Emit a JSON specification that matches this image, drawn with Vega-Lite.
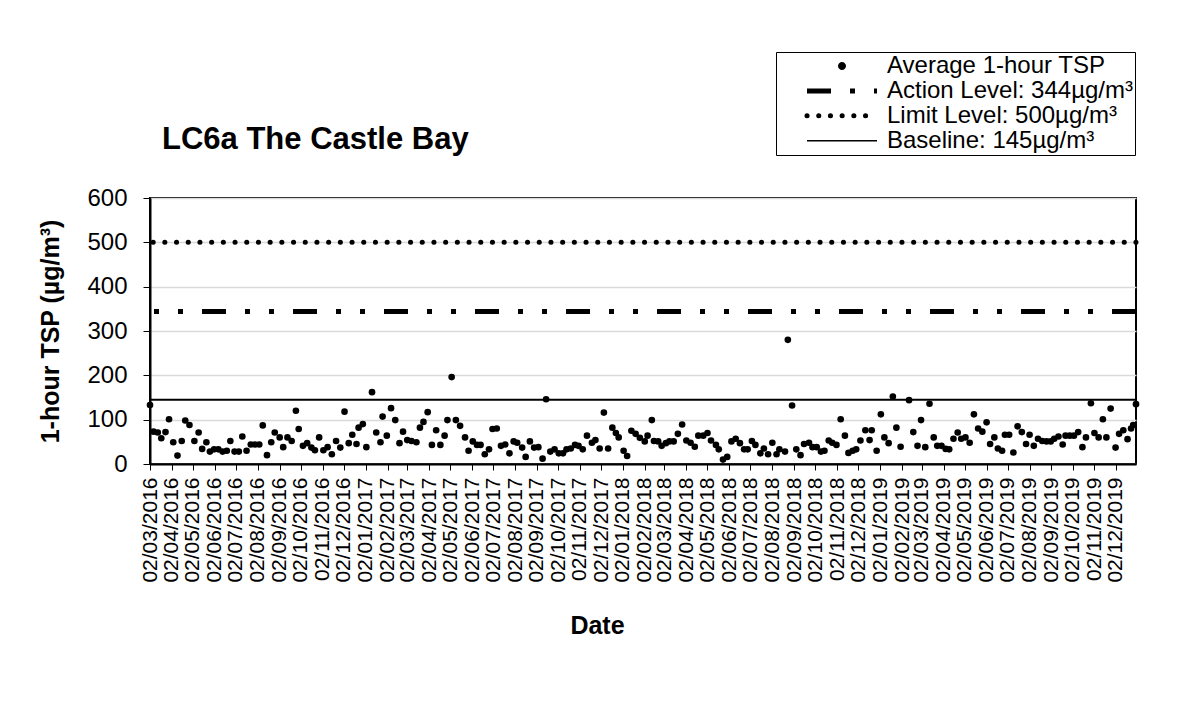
{
  "$schema": "https://vega.github.io/schema/vega-lite/v6.json",
  "width": 986,
  "height": 266,
  "autosize": {"type": "none"},
  "padding": {"left": 150, "top": 198, "right": 54, "bottom": 254},
  "background": "white",
  "config": {
    "font": "Liberation Sans",
    "view": {"stroke": "black", "strokeWidth": 2},
    "axisY": {
      "labelFontSize": 24, "labelColor": "black", "tickSize": 7, "tickColor": "black", "tickWidth": 1,
      "labelPadding": 16, "domainColor": "black", "domainWidth": 2,
      "grid": true, "gridColor": "#d9d9d9", "gridWidth": 1.5,
      "titleFontSize": 25, "titleFontWeight": "bold", "titleColor": "black",
      "titleAngle": -90, "titleX": -92, "titleY": 133, "titleBaseline": "alphabetic", "titleAlign": "center"
    },
    "axisX": {
      "labelFontSize": 21, "labelColor": "black", "tickSize": 6, "tickColor": "black", "tickWidth": 1,
      "labelPadding": 7, "labelAngle": -90, "labelOverlap": false, "labelFlush": false, "labelBound": false,
      "domainColor": "black", "domainWidth": 2, "grid": false,
      "titleFontSize": 25, "titleFontWeight": "bold", "titleColor": "black",
      "titleX": 447, "titleY": 169, "titleBaseline": "alphabetic", "titleAlign": "center"
    }
  },
  "title": {"text": "LC6a The Castle Bay", "anchor": "start", "frame": "group", "fontSize": 31, "fontWeight": "bold", "font": "Liberation Sans", "color": "black", "dx": 12, "dy": 140, "offset": 36},
  "datasets": {
    "levels": [
      {"series": "Action Level: 344µg/m³", "value": 344},
      {"series": "Limit Level: 500µg/m³", "value": 500},
      {"series": "Baseline: 145µg/m³", "value": 145}
    ],
    "tsp": [
      {"date": "2016-03-02", "tsp": 133}, {"date": "2016-03-07", "tsp": 73}, {"date": "2016-03-13", "tsp": 71}, {"date": "2016-03-18", "tsp": 58},
      {"date": "2016-03-24", "tsp": 72}, {"date": "2016-03-29", "tsp": 101}, {"date": "2016-04-04", "tsp": 49}, {"date": "2016-04-10", "tsp": 19},
      {"date": "2016-04-16", "tsp": 52}, {"date": "2016-04-21", "tsp": 98}, {"date": "2016-04-27", "tsp": 88}, {"date": "2016-05-04", "tsp": 52},
      {"date": "2016-05-10", "tsp": 71}, {"date": "2016-05-15", "tsp": 34}, {"date": "2016-05-21", "tsp": 49}, {"date": "2016-05-26", "tsp": 28},
      {"date": "2016-06-01", "tsp": 33}, {"date": "2016-06-07", "tsp": 33}, {"date": "2016-06-13", "tsp": 28}, {"date": "2016-06-19", "tsp": 30},
      {"date": "2016-06-24", "tsp": 52}, {"date": "2016-06-30", "tsp": 28}, {"date": "2016-07-06", "tsp": 28}, {"date": "2016-07-11", "tsp": 62},
      {"date": "2016-07-17", "tsp": 30}, {"date": "2016-07-23", "tsp": 44}, {"date": "2016-07-29", "tsp": 44}, {"date": "2016-08-04", "tsp": 44},
      {"date": "2016-08-09", "tsp": 87}, {"date": "2016-08-15", "tsp": 20}, {"date": "2016-08-21", "tsp": 49}, {"date": "2016-08-26", "tsp": 71},
      {"date": "2016-09-02", "tsp": 60}, {"date": "2016-09-07", "tsp": 38}, {"date": "2016-09-13", "tsp": 60}, {"date": "2016-09-19", "tsp": 52},
      {"date": "2016-09-25", "tsp": 120}, {"date": "2016-09-29", "tsp": 79}, {"date": "2016-10-05", "tsp": 41}, {"date": "2016-10-11", "tsp": 47},
      {"date": "2016-10-17", "tsp": 37}, {"date": "2016-10-22", "tsp": 31}, {"date": "2016-10-28", "tsp": 60}, {"date": "2016-11-03", "tsp": 31},
      {"date": "2016-11-09", "tsp": 38}, {"date": "2016-11-15", "tsp": 22}, {"date": "2016-11-21", "tsp": 52}, {"date": "2016-11-27", "tsp": 37},
      {"date": "2016-12-03", "tsp": 118}, {"date": "2016-12-09", "tsp": 47}, {"date": "2016-12-14", "tsp": 66}, {"date": "2016-12-20", "tsp": 45},
      {"date": "2016-12-23", "tsp": 82}, {"date": "2016-12-29", "tsp": 90}, {"date": "2017-01-03", "tsp": 38}, {"date": "2017-01-11", "tsp": 162},
      {"date": "2017-01-17", "tsp": 71}, {"date": "2017-01-23", "tsp": 49}, {"date": "2017-01-26", "tsp": 107}, {"date": "2017-02-01", "tsp": 64},
      {"date": "2017-02-07", "tsp": 126}, {"date": "2017-02-13", "tsp": 99}, {"date": "2017-02-19", "tsp": 47}, {"date": "2017-02-24", "tsp": 73},
      {"date": "2017-03-02", "tsp": 54}, {"date": "2017-03-08", "tsp": 52}, {"date": "2017-03-15", "tsp": 49}, {"date": "2017-03-20", "tsp": 82},
      {"date": "2017-03-25", "tsp": 95}, {"date": "2017-03-31", "tsp": 117}, {"date": "2017-04-06", "tsp": 43}, {"date": "2017-04-12", "tsp": 76},
      {"date": "2017-04-18", "tsp": 43}, {"date": "2017-04-24", "tsp": 64}, {"date": "2017-04-28", "tsp": 99}, {"date": "2017-05-04", "tsp": 196},
      {"date": "2017-05-10", "tsp": 99}, {"date": "2017-05-16", "tsp": 86}, {"date": "2017-05-23", "tsp": 60}, {"date": "2017-05-28", "tsp": 30},
      {"date": "2017-06-03", "tsp": 51}, {"date": "2017-06-09", "tsp": 43}, {"date": "2017-06-14", "tsp": 43}, {"date": "2017-06-20", "tsp": 22},
      {"date": "2017-06-26", "tsp": 33}, {"date": "2017-07-01", "tsp": 79}, {"date": "2017-07-07", "tsp": 80}, {"date": "2017-07-13", "tsp": 41},
      {"date": "2017-07-19", "tsp": 44}, {"date": "2017-07-25", "tsp": 24}, {"date": "2017-07-31", "tsp": 51}, {"date": "2017-08-05", "tsp": 48},
      {"date": "2017-08-12", "tsp": 37}, {"date": "2017-08-17", "tsp": 16}, {"date": "2017-08-23", "tsp": 51}, {"date": "2017-08-29", "tsp": 37},
      {"date": "2017-09-04", "tsp": 38}, {"date": "2017-09-10", "tsp": 12}, {"date": "2017-09-15", "tsp": 146}, {"date": "2017-09-21", "tsp": 28},
      {"date": "2017-09-27", "tsp": 33}, {"date": "2017-10-03", "tsp": 24}, {"date": "2017-10-09", "tsp": 24}, {"date": "2017-10-14", "tsp": 33},
      {"date": "2017-10-20", "tsp": 35}, {"date": "2017-10-26", "tsp": 43}, {"date": "2017-10-31", "tsp": 41}, {"date": "2017-11-06", "tsp": 33},
      {"date": "2017-11-12", "tsp": 64}, {"date": "2017-11-19", "tsp": 48}, {"date": "2017-11-24", "tsp": 54}, {"date": "2017-11-30", "tsp": 35},
      {"date": "2017-12-06", "tsp": 116}, {"date": "2017-12-12", "tsp": 35}, {"date": "2017-12-18", "tsp": 82}, {"date": "2017-12-23", "tsp": 70},
      {"date": "2017-12-27", "tsp": 60}, {"date": "2018-01-03", "tsp": 30}, {"date": "2018-01-08", "tsp": 18}, {"date": "2018-01-14", "tsp": 75},
      {"date": "2018-01-20", "tsp": 68}, {"date": "2018-01-26", "tsp": 59}, {"date": "2018-02-02", "tsp": 51}, {"date": "2018-02-06", "tsp": 64},
      {"date": "2018-02-12", "tsp": 99}, {"date": "2018-02-15", "tsp": 52}, {"date": "2018-02-21", "tsp": 51}, {"date": "2018-02-26", "tsp": 41},
      {"date": "2018-03-04", "tsp": 47}, {"date": "2018-03-09", "tsp": 51}, {"date": "2018-03-15", "tsp": 51}, {"date": "2018-03-21", "tsp": 68},
      {"date": "2018-03-27", "tsp": 89}, {"date": "2018-04-02", "tsp": 53}, {"date": "2018-04-08", "tsp": 48}, {"date": "2018-04-14", "tsp": 39},
      {"date": "2018-04-19", "tsp": 64}, {"date": "2018-04-26", "tsp": 64}, {"date": "2018-05-02", "tsp": 70}, {"date": "2018-05-07", "tsp": 53},
      {"date": "2018-05-14", "tsp": 43}, {"date": "2018-05-18", "tsp": 33}, {"date": "2018-05-24", "tsp": 10}, {"date": "2018-05-30", "tsp": 16},
      {"date": "2018-06-05", "tsp": 51}, {"date": "2018-06-11", "tsp": 57}, {"date": "2018-06-17", "tsp": 47}, {"date": "2018-06-23", "tsp": 33},
      {"date": "2018-06-28", "tsp": 33}, {"date": "2018-07-04", "tsp": 52}, {"date": "2018-07-09", "tsp": 43}, {"date": "2018-07-16", "tsp": 24},
      {"date": "2018-07-21", "tsp": 35}, {"date": "2018-07-27", "tsp": 22}, {"date": "2018-08-02", "tsp": 48}, {"date": "2018-08-08", "tsp": 22},
      {"date": "2018-08-12", "tsp": 33}, {"date": "2018-08-20", "tsp": 28}, {"date": "2018-08-24", "tsp": 280}, {"date": "2018-08-30", "tsp": 132},
      {"date": "2018-09-05", "tsp": 33}, {"date": "2018-09-11", "tsp": 20}, {"date": "2018-09-16", "tsp": 45}, {"date": "2018-09-23", "tsp": 48},
      {"date": "2018-09-28", "tsp": 38}, {"date": "2018-10-04", "tsp": 38}, {"date": "2018-10-10", "tsp": 28}, {"date": "2018-10-15", "tsp": 30},
      {"date": "2018-10-21", "tsp": 53}, {"date": "2018-10-26", "tsp": 48}, {"date": "2018-11-01", "tsp": 43}, {"date": "2018-11-07", "tsp": 101},
      {"date": "2018-11-13", "tsp": 64}, {"date": "2018-11-18", "tsp": 25}, {"date": "2018-11-24", "tsp": 30}, {"date": "2018-11-29", "tsp": 33},
      {"date": "2018-12-05", "tsp": 53}, {"date": "2018-12-12", "tsp": 76}, {"date": "2018-12-18", "tsp": 54}, {"date": "2018-12-21", "tsp": 76},
      {"date": "2018-12-28", "tsp": 30}, {"date": "2019-01-03", "tsp": 112}, {"date": "2019-01-08", "tsp": 60}, {"date": "2019-01-14", "tsp": 47},
      {"date": "2019-01-20", "tsp": 152}, {"date": "2019-01-25", "tsp": 82}, {"date": "2019-01-31", "tsp": 39}, {"date": "2019-02-12", "tsp": 144},
      {"date": "2019-02-18", "tsp": 72}, {"date": "2019-02-24", "tsp": 41}, {"date": "2019-03-01", "tsp": 99}, {"date": "2019-03-07", "tsp": 38},
      {"date": "2019-03-13", "tsp": 136}, {"date": "2019-03-19", "tsp": 60}, {"date": "2019-03-24", "tsp": 41}, {"date": "2019-03-30", "tsp": 41},
      {"date": "2019-04-05", "tsp": 34}, {"date": "2019-04-10", "tsp": 33}, {"date": "2019-04-16", "tsp": 57}, {"date": "2019-04-22", "tsp": 71},
      {"date": "2019-04-27", "tsp": 57}, {"date": "2019-05-03", "tsp": 60}, {"date": "2019-05-09", "tsp": 48}, {"date": "2019-05-15", "tsp": 112},
      {"date": "2019-05-21", "tsp": 80}, {"date": "2019-05-27", "tsp": 73}, {"date": "2019-06-02", "tsp": 94}, {"date": "2019-06-07", "tsp": 45},
      {"date": "2019-06-13", "tsp": 60}, {"date": "2019-06-18", "tsp": 35}, {"date": "2019-06-24", "tsp": 30}, {"date": "2019-06-28", "tsp": 66},
      {"date": "2019-07-04", "tsp": 66}, {"date": "2019-07-10", "tsp": 26}, {"date": "2019-07-16", "tsp": 85}, {"date": "2019-07-22", "tsp": 72},
      {"date": "2019-07-28", "tsp": 45}, {"date": "2019-08-02", "tsp": 66}, {"date": "2019-08-08", "tsp": 41}, {"date": "2019-08-14", "tsp": 57},
      {"date": "2019-08-20", "tsp": 52}, {"date": "2019-08-26", "tsp": 51}, {"date": "2019-09-01", "tsp": 51}, {"date": "2019-09-06", "tsp": 57},
      {"date": "2019-09-12", "tsp": 62}, {"date": "2019-09-18", "tsp": 44}, {"date": "2019-09-22", "tsp": 64}, {"date": "2019-09-28", "tsp": 64},
      {"date": "2019-10-04", "tsp": 64}, {"date": "2019-10-10", "tsp": 72}, {"date": "2019-10-16", "tsp": 38}, {"date": "2019-10-21", "tsp": 60},
      {"date": "2019-10-28", "tsp": 137}, {"date": "2019-11-02", "tsp": 70}, {"date": "2019-11-08", "tsp": 60}, {"date": "2019-11-14", "tsp": 101},
      {"date": "2019-11-19", "tsp": 60}, {"date": "2019-11-25", "tsp": 125}, {"date": "2019-12-02", "tsp": 37}, {"date": "2019-12-07", "tsp": 68},
      {"date": "2019-12-13", "tsp": 76}, {"date": "2019-12-19", "tsp": 56}, {"date": "2019-12-24", "tsp": 80}, {"date": "2019-12-27", "tsp": 88},
      {"date": "2019-12-31", "tsp": 135}
    ]
  },
  "layer": [
    {
      "data": {"name": "levels"},
      "transform": [{"filter": "datum.series === 'Limit Level: 500µg/m³'"}],
      "mark": {"type": "rule", "strokeDash": [0.1, 11.6], "strokeCap": "round", "strokeWidth": 5, "color": "black"},
      "encoding": {
        "y": {"field": "value", "type": "quantitative", "title": "1-hour TSP (µg/m³)", "scale": {"domain": [0, 600], "nice": false}, "axis": {"values": [0, 100, 200, 300, 400, 500, 600]}}
      }
    },
    {
      "data": {"name": "levels"},
      "transform": [{"filter": "datum.series === 'Action Level: 344µg/m³'"}],
      "mark": {"type": "rule", "strokeDash": [24, 19, 5, 19, 5, 19], "strokeWidth": 5, "color": "black"},
      "encoding": {
        "y": {"field": "value", "type": "quantitative", "title": "1-hour TSP (µg/m³)"}
      }
    },
    {
      "data": {"name": "levels"},
      "transform": [{"filter": "datum.series === 'Baseline: 145µg/m³'"}],
      "mark": {"type": "rule", "strokeWidth": 2, "color": "black"},
      "encoding": {
        "y": {"field": "value", "type": "quantitative", "title": "1-hour TSP (µg/m³)"}
      }
    },
    {
      "data": {"name": "tsp"},
      "mark": {"type": "point", "filled": true, "size": 44, "opacity": 1, "strokeWidth": 0},
      "encoding": {
        "x": {
          "field": "date", "type": "temporal", "title": "Date",
          "scale": {"type": "utc", "domain": [{"year": 2016, "month": 3, "date": 2, "utc": true}, {"year": 2019, "month": 12, "date": 31, "utc": true}]},
          "axis": {
            "format": "%d/%m/%Y",
            "values": [
              {"year": 2016, "month": 3, "date": 2, "utc": true}, {"year": 2016, "month": 4, "date": 2, "utc": true}, {"year": 2016, "month": 5, "date": 2, "utc": true},
              {"year": 2016, "month": 6, "date": 2, "utc": true}, {"year": 2016, "month": 7, "date": 2, "utc": true}, {"year": 2016, "month": 8, "date": 2, "utc": true},
              {"year": 2016, "month": 9, "date": 2, "utc": true}, {"year": 2016, "month": 10, "date": 2, "utc": true}, {"year": 2016, "month": 11, "date": 2, "utc": true},
              {"year": 2016, "month": 12, "date": 2, "utc": true},
              {"year": 2017, "month": 1, "date": 2, "utc": true}, {"year": 2017, "month": 2, "date": 2, "utc": true}, {"year": 2017, "month": 3, "date": 2, "utc": true},
              {"year": 2017, "month": 4, "date": 2, "utc": true}, {"year": 2017, "month": 5, "date": 2, "utc": true}, {"year": 2017, "month": 6, "date": 2, "utc": true},
              {"year": 2017, "month": 7, "date": 2, "utc": true}, {"year": 2017, "month": 8, "date": 2, "utc": true}, {"year": 2017, "month": 9, "date": 2, "utc": true},
              {"year": 2017, "month": 10, "date": 2, "utc": true}, {"year": 2017, "month": 11, "date": 2, "utc": true}, {"year": 2017, "month": 12, "date": 2, "utc": true},
              {"year": 2018, "month": 1, "date": 2, "utc": true}, {"year": 2018, "month": 2, "date": 2, "utc": true}, {"year": 2018, "month": 3, "date": 2, "utc": true},
              {"year": 2018, "month": 4, "date": 2, "utc": true}, {"year": 2018, "month": 5, "date": 2, "utc": true}, {"year": 2018, "month": 6, "date": 2, "utc": true},
              {"year": 2018, "month": 7, "date": 2, "utc": true}, {"year": 2018, "month": 8, "date": 2, "utc": true}, {"year": 2018, "month": 9, "date": 2, "utc": true},
              {"year": 2018, "month": 10, "date": 2, "utc": true}, {"year": 2018, "month": 11, "date": 2, "utc": true}, {"year": 2018, "month": 12, "date": 2, "utc": true},
              {"year": 2019, "month": 1, "date": 2, "utc": true}, {"year": 2019, "month": 2, "date": 2, "utc": true}, {"year": 2019, "month": 3, "date": 2, "utc": true},
              {"year": 2019, "month": 4, "date": 2, "utc": true}, {"year": 2019, "month": 5, "date": 2, "utc": true}, {"year": 2019, "month": 6, "date": 2, "utc": true},
              {"year": 2019, "month": 7, "date": 2, "utc": true}, {"year": 2019, "month": 8, "date": 2, "utc": true}, {"year": 2019, "month": 9, "date": 2, "utc": true},
              {"year": 2019, "month": 10, "date": 2, "utc": true}, {"year": 2019, "month": 11, "date": 2, "utc": true}, {"year": 2019, "month": 12, "date": 2, "utc": true}
            ]
          }
        },
        "y": {"field": "tsp", "type": "quantitative", "title": "1-hour TSP (µg/m³)"},
        "color": {
          "datum": "Average 1-hour TSP", "type": "nominal",
          "scale": {
            "domain": ["Average 1-hour TSP", "Action Level: 344µg/m³", "Limit Level: 500µg/m³", "Baseline: 145µg/m³"],
            "range": ["black", "black", "black", "black"]
          },
          "legend": {
            "orient": "none", "legendX": 626, "legendY": -146, "title": null,
            "strokeColor": "black", "fillColor": "white", "padding": 2, "cornerRadius": 0,
            "labelFontSize": 24, "labelColor": "black", "labelFont": "Liberation Sans", "labelLimit": 500,
            "symbolSize": 400, "labelOffset": 85, "rowPadding": 0.9,
            "encoding": {
              "symbols": {
                "shape": {"value": {"expr": "datum.value === 'Average 1-hour TSP' ? 'M5.6,0A0.4,0.4,0,1,1,4.8,0A0.4,0.4,0,1,1,5.6,0Z' : 'M1.7,0L8.7,0'"}},
                "size": {"value": 400},
                "fill": {"value": "black"},
                "fillOpacity": {"value": 1},
                "stroke": {"value": "black"},
                "strokeOpacity": {"value": 1},
                "opacity": {"value": 1},
                "strokeWidth": {"value": {"expr": "datum.value === 'Average 1-hour TSP' ? 0 : datum.value === 'Baseline: 145µg/m³' ? 1.5 : 5"}},
                "strokeDash": {"value": {"expr": "datum.value === 'Action Level: 344µg/m³' ? [24, 19, 5, 19, 5, 19] : datum.value === 'Limit Level: 500µg/m³' ? [0.1, 11.6] : [1, 0]"}},
                "strokeCap": {"value": {"expr": "datum.value === 'Limit Level: 500µg/m³' ? 'round' : 'butt'"}}
              }
            }
          }
        }
      }
    }
  ]
}
